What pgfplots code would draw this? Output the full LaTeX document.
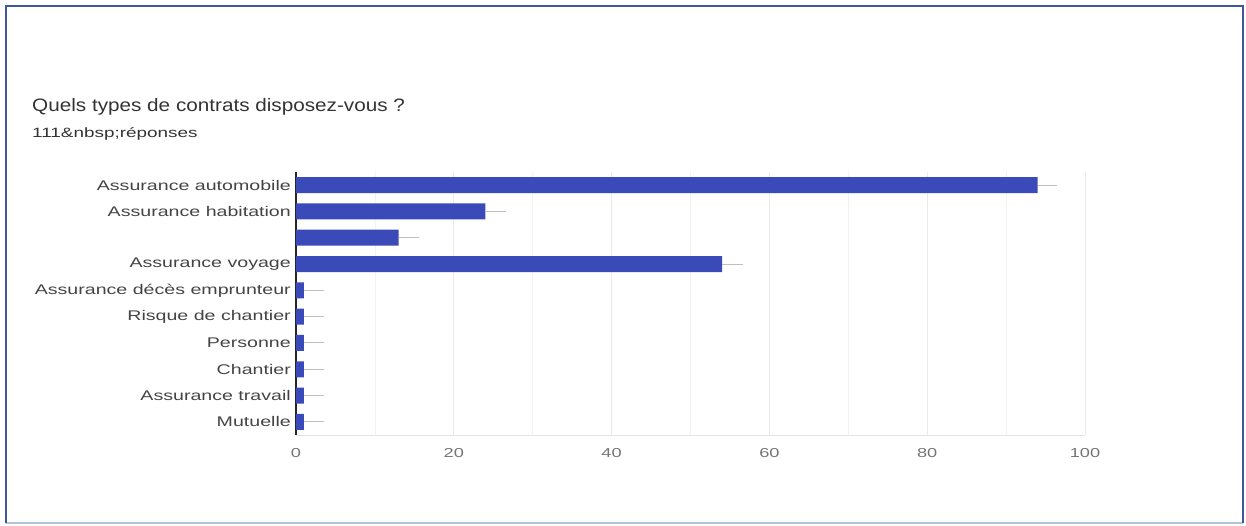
\documentclass[border=0pt]{standalone}
\usepackage{pgfplots}
\pgfplotsset{compat=1.18}
\usepackage{pgfplotstable}
\usepackage{fontspec}
\setmainfont{Liberation Sans}
\newfontfamily\lblfont[FakeStretch=1.4]{Liberation Sans}
\newfontfamily\ttlfont[FakeStretch=1.15]{Liberation Sans}
\newfontfamily\subfont[FakeStretch=1.4]{Liberation Sans}
\definecolor{barblue}{HTML}{3A4BB9}
\definecolor{framecol}{HTML}{3C5A9A}
\definecolor{framelight}{HTML}{B4C3DA}
\definecolor{lbltext}{HTML}{444444}
\definecolor{ticktext}{HTML}{757575}

\pgfplotstableread{
y val err
9 94 2.5
8 24 2.6
7 13 2.6
6 54 2.6
5 1 2.6
4 1 2.6
3 1 2.6
2 1 2.6
1 1 2.6
0 1 2.6
}\datatable

\begin{document}
\begin{tikzpicture}
\path[use as bounding box] (0pt,0pt) rectangle (1246pt,525pt);
% frame
\draw[framelight, line width=2pt] (6pt,2pt) -- (1243pt,2pt);
\draw[framecol, line width=2.5pt] (6pt,2pt) -- (6pt,519pt) -- (1243pt,519pt) -- (1243pt,2pt);
% title
\node[anchor=base west, inner sep=0pt, text=black!80] at (32pt,413pt) {\ttlfont\fontsize{18}{21}\selectfont Quels types de contrats disposez-vous ?};
\node[anchor=base west, inner sep=0pt, text=black!80] at (32pt,387pt) {\subfont\fontsize{13.5}{16}\selectfont 111\&nbsp;réponses};
\begin{axis}[
  at={(296pt,90pt)}, anchor=south west,
  scale only axis, width=789pt, height=263pt,
  xmin=0, xmax=100, ymin=-0.5, ymax=9.5,
  xtick={0,20,...,100}, minor xtick={10,30,...,90},
  ytick={0,...,9},
  yticklabels={Mutuelle, Assurance travail, Chantier, Personne, Risque de chantier, Assurance décès emprunteur, Assurance voyage, {}, Assurance habitation, Assurance automobile},
  xmajorgrids, xminorgrids,
  major grid style={color=black!8, line width=0.8pt},
  minor grid style={color=black!5, line width=0.8pt},
  axis x line*=bottom, axis y line*=left,
  x axis line style={-, color=black!10, line width=0.8pt},
  y axis line style={-, color=black!85, line width=1.3pt},
  major tick length=0pt, minor tick length=0pt,
  /pgf/number format/assume math mode=true,
  xticklabel style={anchor=north, inner sep=0pt, yshift=-13pt, text=ticktext, font=\lblfont\fontsize{13}{15}\selectfont},
  yticklabel style={anchor=east, inner sep=0pt, xshift=-5pt, text=lbltext, font=\lblfont\fontsize{14}{16}\selectfont},
  clip=false,
]
\addplot[xbar, bar width=16pt, fill=barblue, draw=none,
  error bars/.cd, x dir=plus, x explicit, error mark=none,
  error bar style={color=black!25, line width=1pt}]
  table[x=val, y=y, x error=err]{\datatable};
\end{axis}
\end{tikzpicture}
\end{document}
